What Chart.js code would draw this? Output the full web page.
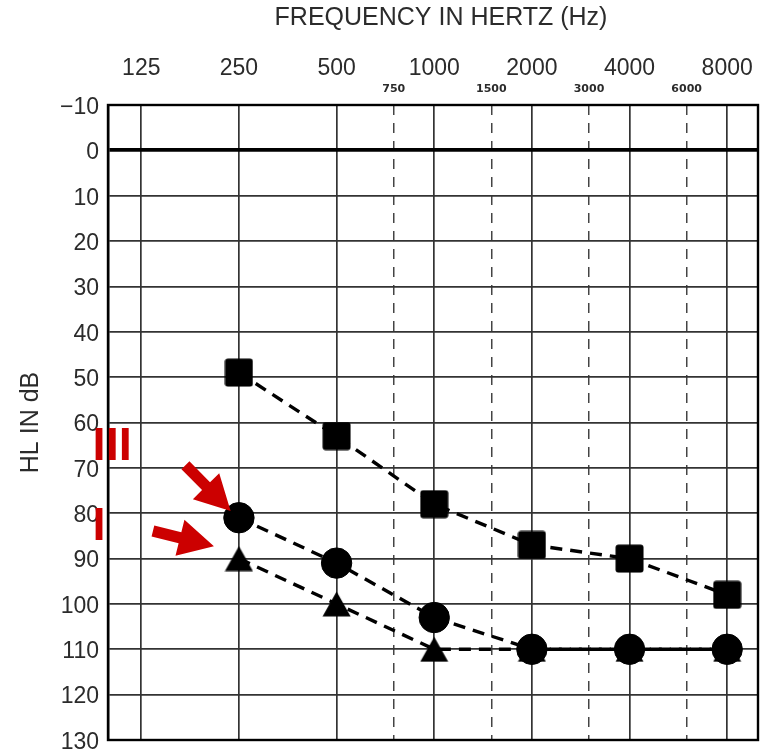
<!DOCTYPE html>
<html>
<head>
<meta charset="utf-8">
<script src="https://cdn.jsdelivr.net/npm/chart.js@4/dist/chart.umd.min.js"></script>
<style>
html,body{margin:0;padding:0;background:#fff;}
#wrap{width:760px;height:751px;}
</style>
</head>
<body>
<div id="wrap"><canvas id="c" width="760" height="751"></canvas></div>
<script>
// ---- data ----
const frequencies = [250, 500, 1000, 2000, 4000, 8000];
const squareDb    = [49, 63, 78, 87, 90, 98];
const circleDb    = [81, 91, 103, 110, 110, 110];
const triangleDb  = [90, 100, 110, 110, 110, 110];
const octaveTicks = [125, 250, 500, 1000, 2000, 4000, 8000];
const interOctaveTicks = [750, 1500, 3000, 6000];
const dbTicks = [-10, 0, 10, 20, 30, 40, 50, 60, 70, 80, 90, 100, 110, 120, 130];
const xTitle = 'FREQUENCY IN HERTZ (Hz)';
const yTitle = 'HL IN dB';
const numeralLabels = ['III', 'I'];
const numeralBaseDb = [68.3, 85.8];

// ---- styles ----
const RED = '#cc0000';
const TEXT = '#2b2b2b';
const GRID = '#333333';
const FONT = 'Liberation Sans';
const X_MIN = 98.7, X_MAX = 9956;
const lineDash = [12, 8];

function makeTriangle() {
  const c = document.createElement('canvas');
  c.width = 29; c.height = 26;
  const g = c.getContext('2d');
  g.fillStyle = '#000';
  g.beginPath();
  g.moveTo(0.5, 25.5); g.lineTo(14.5, 0.5); g.lineTo(28.5, 25.5); g.closePath();
  g.fill();
  return c;
}
function makeSquare() {
  const c = document.createElement('canvas');
  c.width = 29; c.height = 29;
  const g = c.getContext('2d');
  g.fillStyle = '#000';
  g.beginPath();
  g.roundRect(0.5, 0.5, 28, 28, 3);
  g.fill();
  return c;
}

const pts = ys => frequencies.map((f, i) => ({x: f, y: ys[i]}));
const ds = (label, ys, style, r) => ({
  label, data: pts(ys),
  pointStyle: style, pointRadius: r, pointHoverRadius: r,
  pointBackgroundColor: '#000', pointBorderColor: '#000', pointBorderWidth: 1,
  borderColor: '#000', borderWidth: 3.4, borderDash: lineDash,
  fill: false, tension: 0, xAxisID: 'x', yAxisID: 'y'
});

function arrow(ctx, tx, ty, px, py) {
  const dx = px - tx, dy = py - ty, L = Math.hypot(dx, dy);
  const ux = dx / L, uy = dy / L, nx = -uy, ny = ux;
  const sw = 5.6, hw = 18.5, hl = 35;
  const bx = px - ux * hl, by = py - uy * hl;
  ctx.beginPath();
  ctx.moveTo(tx + nx * sw, ty + ny * sw);
  ctx.lineTo(bx + nx * sw, by + ny * sw);
  ctx.lineTo(bx + nx * hw, by + ny * hw);
  ctx.lineTo(px, py);
  ctx.lineTo(bx - nx * hw, by - ny * hw);
  ctx.lineTo(bx - nx * sw, by - ny * sw);
  ctx.lineTo(tx - nx * sw, ty - ny * sw);
  ctx.closePath();
  ctx.fill();
}

const overlay = {
  id: 'overlay',
  afterDraw(chart) {
    const {ctx, chartArea: a, scales: {x, y}} = chart;
    ctx.save();
    ctx.strokeStyle = '#000';
    ctx.lineWidth = 2.4;
    ctx.strokeRect(a.left, a.top, a.right - a.left, a.bottom - a.top);
    // axis title (frequency)
    ctx.fillStyle = TEXT;
    ctx.font = '25px "' + FONT + '"';
    ctx.textAlign = 'center';
    ctx.textBaseline = 'middle';
    ctx.fillText(xTitle, (a.left + a.right) / 2 + 8, 18);
    // roman numerals
    ctx.fillStyle = RED;
    ctx.font = 'bold 47px "' + FONT + '"';
    ctx.textAlign = 'left';
    ctx.textBaseline = 'alphabetic';
    numeralLabels.forEach((t, i) => {
      ctx.fillText(t, a.left - 15.4, y.getPixelForValue(numeralBaseDb[i]));
    });
    // arrows pointing at the 250 Hz circle and triangle
    const cx = x.getPixelForValue(frequencies[0]);
    const cy = y.getPixelForValue(circleDb[0]);
    const ty = y.getPixelForValue(triangleDb[0]);
    arrow(ctx, cx - 53.5, cy - 52.5, cx - 8.3, cy - 6.7);
    arrow(ctx, cx - 86, ty - 27.6, cx - 25, ty - 12.4);
    ctx.restore();
  }
};

new Chart(document.getElementById('c'), {
  type: 'line',
  data: {
    datasets: [
      ds('Square', squareDb, makeSquare(), 14),
      ds('Circle', circleDb, 'circle', 15.2),
      ds('Triangle', triangleDb, makeTriangle(), 14)
    ]
  },
  options: {
    responsive: false,
    animation: false,
    devicePixelRatio: 1,
    events: [],
    layout: {autoPadding: false, padding: {left: 0, top: 0, right: 2, bottom: 11}},
    plugins: {legend: {display: false}, tooltip: {enabled: false}},
    scales: {
      x: {
        type: 'logarithmic', position: 'top', weight: 1, min: X_MIN, max: X_MAX,
        afterBuildTicks: s => { s.ticks = octaveTicks.map(v => ({value: v})); },
        afterFit: s => { s.height = 82; s.paddingLeft = 0; s.paddingRight = 0; },
        ticks: {autoSkip: false, maxRotation: 0, minRotation: 0, padding: 0, color: TEXT,
                font: {family: FONT, size: 23}, callback: v => String(v)},
        grid: {color: GRID, lineWidth: 1.7, drawTicks: false},
        border: {display: false},
        title: {display: false, text: xTitle}
      },
      x2: {
        type: 'logarithmic', position: 'top', weight: 0, min: X_MIN, max: X_MAX,
        afterBuildTicks: s => { s.ticks = interOctaveTicks.map(v => ({value: v})); },
        afterFit: s => { s.height = 23; s.paddingLeft = 0; s.paddingRight = 0; },
        ticks: {autoSkip: false, maxRotation: 0, minRotation: 0, padding: 9.4, color: TEXT,
                font: {family: 'DejaVu Sans', size: 11, weight: 'bold'}, callback: v => String(v)},
        grid: {color: '#444', lineWidth: 1.5, drawTicks: false},
        border: {display: false, dash: [10, 8]}
      },
      y: {
        type: 'linear', position: 'left', reverse: true, min: -10, max: 130,
        afterBuildTicks: s => { s.ticks = dbTicks.map(v => ({value: v})); },
        afterFit: s => { s.width = 108; s.paddingTop = 0; s.paddingBottom = 0; },
        ticks: {padding: 9, labelOffset: 2.5, color: TEXT, font: {family: FONT, size: 23},
                callback: v => v < 0 ? '\u2212' + Math.abs(v) : String(v)},
        grid: {
          color: c => (c.tick && c.tick.value === 0) ? '#000' : GRID,
          lineWidth: c => (c.tick && c.tick.value === 0) ? 3.8 : 1.7,
          drawTicks: false
        },
        border: {display: true, color: '#000', width: 2.4},
        title: {display: true, text: yTitle, color: TEXT,
                font: {family: FONT, size: 25}, padding: {top: 16, bottom: 0}}
      }
    }
  },
  plugins: [overlay]
});
</script>
</body>
</html>
